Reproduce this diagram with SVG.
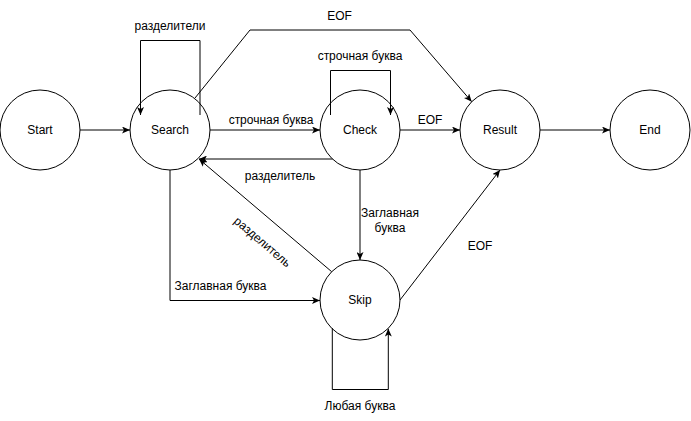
<svg xmlns="http://www.w3.org/2000/svg" width="691" height="421" viewBox="0 0 691 421">
<style>
.node{fill:#ffffff;stroke:#000000;stroke-width:1}
.edge{fill:none;stroke:#000000;stroke-width:1;marker-end:url(#arr)}
text{font-family:"Liberation Sans",Arial,sans-serif;font-size:12px;fill:#000000;text-anchor:middle;dominant-baseline:central}
</style>
<defs>
<marker id="arr" viewBox="0 0 8 7" refX="8" refY="3.5" markerWidth="8" markerHeight="7" markerUnits="userSpaceOnUse" orient="auto">
<path d="M0,0 L8,3.5 L0,7 L2,3.5 Z" fill="#000000"/>
</marker>
</defs>
<rect width="691" height="421" fill="#ffffff"/>
<g id="node-start"><circle class="node" cx="40" cy="130" r="40"/><text x="40" y="130">Start</text></g>
<g id="node-search"><circle class="node" cx="170" cy="130" r="40"/><text x="170" y="130">Search</text></g>
<g id="node-check"><circle class="node" cx="360" cy="130" r="40"/><text x="360" y="130">Check</text></g>
<g id="node-result"><circle class="node" cx="500" cy="130" r="40"/><text x="500" y="130">Result</text></g>
<g id="node-end"><circle class="node" cx="650" cy="130" r="40"/><text x="650" y="130">End</text></g>
<g id="node-skip"><circle class="node" cx="360" cy="300" r="40"/><text x="360" y="300">Skip</text></g>
<g id="connectors">
<path class="edge" d="M80,130 L130,130"/>
<path class="edge" d="M200,115 L200,40.5 L140.5,40.5 L140.5,115"/>
<text x="170" y="26">разделители</text>
<path class="edge" d="M195,98 L250,30 L410,30 L471.7,101.7"/>
<text x="339.5" y="16">EOF</text>
<path class="edge" d="M210,130 L320,130"/>
<text x="271" y="120">строчная буква</text>
<path class="edge" d="M330.5,115 L330.5,70.5 L390.5,70.5 L390.5,115"/>
<text x="360" y="56">строчная буква</text>
<path class="edge" d="M400,130 L460,130"/>
<text x="430" y="120">EOF</text>
<path class="edge" d="M540,130 L610,130"/>
<path class="edge" d="M332.5,159 L199,159"/>
<text x="280" y="176">разделитель</text>
<path class="edge" d="M331.7,271.7 L199,159"/>
<text x="262.5" y="242" transform="rotate(40.3 262.5 242)">разделитель</text>
<path class="edge" d="M170,170 L170,300.5 L320,300.5"/>
<text x="220.5" y="286">Заглавная буква</text>
<path class="edge" d="M360,170 L360,260"/>
<text x="390" y="213">Заглавная</text>
<text x="390" y="228">буква</text>
<path class="edge" d="M400,300 L500,170"/>
<text x="480" y="246">EOF</text>
<path class="edge" d="M332.3,328 L332.3,389.5 L388.3,389.5 L388.3,328.6"/>
<text x="360" y="406">Любая буква</text>
</g>
</svg>
